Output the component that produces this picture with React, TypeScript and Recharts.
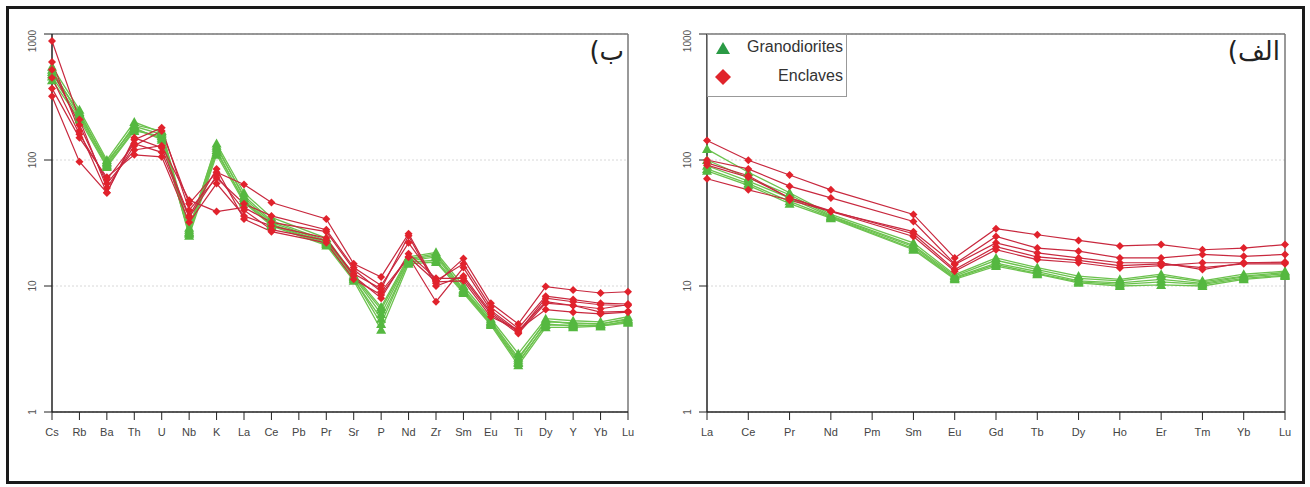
import React from 'react'
import { LineChart, Line, XAxis, YAxis, CartesianGrid, ReferenceLine } from 'recharts'

const spiderElements = ['Cs', 'Rb', 'Ba', 'Th', 'U', 'Nb', 'K', 'La', 'Ce', 'Pb', 'Pr', 'Sr', 'P', 'Nd', 'Zr', 'Sm', 'Eu', 'Ti', 'Dy', 'Y', 'Yb', 'Lu']
const reeElements = ['La', 'Ce', 'Pr', 'Nd', 'Pm', 'Sm', 'Eu', 'Gd', 'Tb', 'Dy', 'Ho', 'Er', 'Tm', 'Yb', 'Lu']
const yTicks = [1, 10, 100, 1000]

// spider diagram (ب) — Pb not analysed
const spiderGranodiorites = [
  [550, 250, 100, 200, 165, 28, 135, 55, 35, null, 24, 12.3, 6.8, 17, 18.5, 10, 5.5, 2.9, 5.5, 5.3, 5.2, 5.7],
  [500, 235, 95, 185, 160, 27, 125, 52, 33, null, 23, 11.8, 6.0, 16.2, 17.5, 9.5, 5.3, 2.7, 5.2, 5.1, 5.0, 5.5],
  [460, 220, 90, 175, 150, 26, 115, 48, 31, null, 22, 11.3, 5.5, 15.5, 16, 9, 5.1, 2.5, 4.9, 4.9, 4.8, 5.3],
  [430, 210, 88, 170, 155, 25, 110, 46, 30, null, 21, 11, 4.5, 15, 15.5, 8.8, 4.9, 2.35, 4.7, 4.7, 4.8, 5.1],
  [480, 240, 92, 190, 170, 29, 130, 50, 32, null, 22.5, 12, 6.5, 16.5, 18, 9.3, 5.2, 2.6, 5.3, 5.0, 5.0, 5.4],
  [520, 225, 97, 180, 145, 26.5, 120, 47, 30.5, null, 21.5, 11.5, 5.0, 15.8, 17, 9.1, 5.0, 2.45, 5.0, 4.8, 4.9, 5.2],
]
const spiderEnclaves = [
  [880, 210, 60, 130, 170, 45, 80, 64, 46, null, 34, 15, 11.8, 26, 10.5, 16.5, 7.3, 5.0, 9.9, 9.3, 8.8, 9.0],
  [600, 170, 55, 145, 180, 40, 72, 45, 36, null, 28, 14, 10.1, 22, 11, 15, 6.8, 4.6, 8.3, 7.8, 7.3, 7.2],
  [520, 190, 65, 120, 130, 48, 39, 42, 32, null, 27, 13.5, 9, 17, 7.5, 14, 6.4, 4.4, 7.5, 7.0, 6.6, 7.1],
  [370, 150, 73, 110, 106, 32, 65, 36, 30, null, 24, 12, 8, 18, 11.5, 11.5, 6.0, 4.2, 7.3, 7.0, 6.2, 6.3],
  [320, 97, 55, 150, 125, 36, 85, 34, 27, null, 22, 11.3, 8.5, 17, 10.8, 11, 5.7, 4.5, 6.5, 6.2, 6.0, 6.2],
  [450, 160, 70, 135, 115, 35, 75, 40, 28, null, 23, 12.5, 9.5, 25, 10, 12, 6.2, 4.3, 8.0, 7.5, 7.1, 7.0],
]

// REE diagram (الف) — Pm not analysed
const reeGranodiorites = [
  [122, 80, 55, 37, null, 22, 12.3, 16.7, 14, 12, 11.3, 12.4, 11, 12.4, 13.1],
  [100, 72, 53, 36, null, 21, 12, 16, 13.5, 11.5, 11, 12, 10.8, 12, 12.8],
  [90, 68, 50, 35.5, null, 20.5, 11.7, 15.2, 13, 11, 10.6, 11.3, 10.5, 11.8, 12.5],
  [85, 65, 47, 35, null, 19.8, 11.5, 14.8, 12.6, 10.8, 10.3, 10.8, 10.3, 11.5, 12.2],
  [82, 63, 45, 34.5, null, 19.4, 11.3, 14.4, 12.4, 10.6, 10, 10.2, 10, 11.3, 12],
]
const reeEnclaves = [
  [143, 99.5, 76, 58, null, 37, 16.7, 28.5, 25.5, 23, 20.8, 21.3, 19.4, 20, 21.3],
  [100, 85, 62, 50, null, 32.5, 15, 24.7, 20, 18.9, 16.7, 16.7, 17.8, 17.2, 17.8],
  [91, 73, 50, 39, null, 27, 14.8, 22, 18.3, 16.7, 15.3, 15.3, 13.5, 15.3, 15.3],
  [71, 58, 48, 39, null, 24.7, 13.1, 19.4, 16.2, 15.3, 13.9, 14.5, 15.3, 15.3, 15.5],
  [95, 75, 50, 39.5, null, 26, 13.5, 20.5, 17, 16, 14.5, 15, 14, 15, 15.0],
]

const GREEN_LINE = '#6cc24e'
const GREEN_DOT = '#55b840'
const RED_LINE = '#c8283e'
const RED_DOT = '#e1222c'

function buildRows(elements: string[], green: (number | null)[][], red: (number | null)[][]) {
  return elements.map((el, i) => {
    const row: Record<string, any> = { el }
    green.forEach((s, k) => { row['g' + k] = s[i] })
    red.forEach((s, k) => { row['r' + k] = s[i] })
    return row
  })
}

const triangleDot = (props: any) => {
  const { cx, cy, value, index } = props
  if (cx == null || cy == null || value == null) return <g key={`t-${index}`} />
  const s = 5
  return <path key={`t-${index}`} d={`M${cx},${cy - s}L${cx + s},${cy + s * 0.8}L${cx - s},${cy + s * 0.8}Z`} fill={GREEN_DOT} />
}

const diamondDot = (props: any) => {
  const { cx, cy, value, index } = props
  if (cx == null || cy == null || value == null) return <g key={`d-${index}`} />
  const s = 4
  return <path key={`d-${index}`} d={`M${cx},${cy - s}L${cx + s},${cy}L${cx},${cy + s}L${cx - s},${cy}Z`} fill={RED_DOT} />
}

const YTick = (props: any) => {
  const { x, y, payload } = props
  const yy = payload.value === 1000 ? y + 7 : y
  return (
    <text x={x} y={yy} transform={`rotate(-90, ${x}, ${yy})`} textAnchor="middle" dominantBaseline="central" fontSize={10} fill="#555">
      {payload.value}
    </text>
  )
}

function Diagram({ rows, nGreen, nRed, margin }: { rows: any[]; nGreen: number; nRed: number; margin: any }) {
  return (
    <LineChart width={660} height={470} data={rows} margin={margin}>
      <CartesianGrid vertical={false} stroke="#d8d8d8" strokeDasharray="2 2" />
      <XAxis
        dataKey="el"
        height={30}
        interval={0}
        tickSize={8}
        tickMargin={8}
        tick={{ fontSize: 11, fill: '#444' }}
        axisLine={{ stroke: '#222', strokeWidth: 1.5 }}
        tickLine={{ stroke: '#222' }}
      />
      <YAxis
        type="number"
        scale="log"
        domain={[1, 1000]}
        ticks={yTicks}
        allowDataOverflow
        width={40}
        tickSize={8}
        tickMargin={12}
        tick={<YTick />}
        axisLine={{ stroke: '#222', strokeWidth: 1.5 }}
        tickLine={{ stroke: '#222' }}
      />
      <ReferenceLine y={1000} stroke="#777" strokeWidth={1.5} />
      <ReferenceLine x="Lu" stroke="#777" strokeWidth={1.5} />
      {Array.from({ length: nGreen }, (_, k) => (
        <Line key={'g' + k} dataKey={'g' + k} stroke={GREEN_LINE} strokeWidth={1.3} dot={triangleDot} connectNulls isAnimationActive={false} />
      ))}
      {Array.from({ length: nRed }, (_, k) => (
        <Line key={'r' + k} dataKey={'r' + k} stroke={RED_LINE} strokeWidth={1.2} dot={diamondDot} connectNulls isAnimationActive={false} />
      ))}
    </LineChart>
  )
}

export default function App() {
  const spiderRows = buildRows(spiderElements, spiderGranodiorites, spiderEnclaves)
  const reeRows = buildRows(reeElements, reeGranodiorites, reeEnclaves)

  return (
    <div style={{ position: 'absolute', left: 0, top: 0, width: 1310, height: 487, background: '#fff', fontFamily: '"Liberation Sans", Arial, sans-serif' }}>
      <div style={{ position: 'absolute', left: 0, top: 0 }}>
        <Diagram rows={spiderRows} nGreen={spiderGranodiorites.length} nRed={spiderEnclaves.length} margin={{ top: 34, right: 32, bottom: 28, left: 12 }} />
      </div>
      <div style={{ position: 'absolute', left: 655, top: 0 }}>
        <Diagram rows={reeRows} nGreen={reeGranodiorites.length} nRed={reeEnclaves.length} margin={{ top: 34, right: 30, bottom: 28, left: 12 }} />
      </div>

      <div dir="rtl" style={{ position: 'absolute', left: 560, top: 36, width: 64, textAlign: 'right', fontFamily: '"DejaVu Sans"', fontSize: 26, color: '#222' }}>ب)</div>
      <div dir="rtl" style={{ position: 'absolute', left: 1196, top: 36, width: 84, textAlign: 'right', fontFamily: '"DejaVu Sans"', fontSize: 26, color: '#222' }}>الف)</div>

      <div style={{ position: 'absolute', left: 707, top: 34, width: 140, height: 63, border: '1px solid #999', boxSizing: 'border-box', background: '#fff', fontSize: 16, color: '#333' }}>
        <svg width={16} height={14} style={{ position: 'absolute', left: 7, top: 6 }}>
          <path d="M8,1L15,13L1,13Z" fill="#2a9a45" />
        </svg>
        <div style={{ position: 'absolute', left: 26, top: 3, width: 109, textAlign: 'right' }}>Granodiorites</div>
        <svg width={18} height={18} style={{ position: 'absolute', left: 6, top: 33 }}>
          <path d="M9,1L17,9L9,17L1,9Z" fill="#e0242b" />
        </svg>
        <div style={{ position: 'absolute', left: 26, top: 32, width: 109, textAlign: 'right' }}>Enclaves</div>
      </div>

      <div style={{ position: 'absolute', left: 6, top: 6, width: 1299, height: 478, border: '3px solid #1a1a1a', boxSizing: 'border-box', pointerEvents: 'none' }} />
    </div>
  )
}
